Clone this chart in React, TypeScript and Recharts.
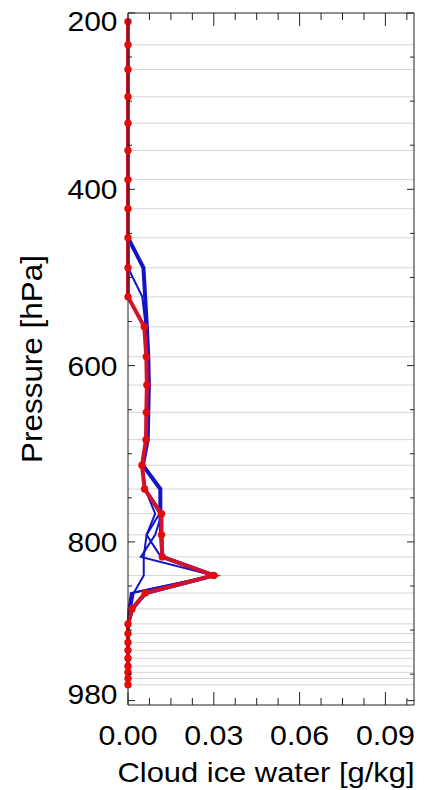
import React from 'react';
import { LineChart, Line, XAxis, YAxis, ReferenceLine } from 'recharts';

// Model pressure levels [hPa]
const levels = [210, 236, 264, 295, 325, 356, 389, 422, 455, 489, 522, 556, 590, 622, 653, 684, 713, 740, 768, 792, 817, 838, 858, 876, 893, 904, 914, 923, 932, 941, 948, 955, 962];

// Cloud ice water [g/kg]
const redProfile = [0, 0, 0, 0, 0, 0, 0, 0, 0, 0, 0, 0.0057, 0.0064, 0.0066, 0.0064, 0.0063, 0.0049, 0.0058, 0.0117, 0.0117, 0.012, 0.03, 0.006, 0.0014, 0, 0, 0, 0, 0, 0, 0, 0, 0];
const blueThick = [0, 0, 0, 0, 0, 0, 0, 0, 0, 0.0054, 0.006, 0.0066, 0.0071, 0.0073, 0.0071, 0.0069, 0.0052, 0.0113, 0.0113, 0.0116, 0.012, 0.03, 0.0062, 0.0015, 0, 0, 0, 0, 0, 0, 0, 0, 0];
const blueA = [0, 0, 0, 0, 0, 0, 0, 0, 0, 0, 0.005, 0.0062, 0.0068, 0.007, 0.0068, 0.0066, 0.005, 0.006, 0.0095, 0.0065, 0.0115, 0.03, 0.0015, 0.0003, 0, 0, 0, 0, 0, 0, 0, 0, 0];
const blueB = [0, 0, 0, 0, 0, 0, 0, 0, 0, 0, 0, 0.0058, 0.0066, 0.0068, 0.0066, 0.0064, 0.0047, 0.0058, 0.011, 0.0065, 0.0055, 0.0055, 0.002, 0.001, 0, 0, 0, 0, 0, 0, 0, 0, 0];
const blueC = [0, 0, 0, 0, 0, 0, 0, 0, 0, 0, 0, 0.0056, 0.0065, 0.0067, 0.0065, 0.0063, 0.0048, 0.0062, 0.0118, 0.0095, 0.0045, 0.03, 0.001, 0.0002, 0, 0, 0, 0, 0, 0, 0, 0, 0];

const xMajorTicks = [0, 0.03, 0.06, 0.09];
const xMinorTicks = [0.0075, 0.015, 0.0225, 0.0375, 0.045, 0.0525, 0.0675, 0.075, 0.0825, 0.0975];
const yMajorTicks = [200, 400, 600, 800, 980];
const yMinorTicks = [250, 300, 350, 450, 500, 550, 650, 700, 750, 850, 900, 950];

const xAllTicks = [...xMajorTicks, ...xMinorTicks].sort((a, b) => a - b);
const yAllTicks = [...yMajorTicks, ...yMinorTicks].sort((a, b) => a - b);

const data = levels.map((p, i) => ({
  p,
  red: redProfile[i],
  bt: blueThick[i],
  ba: blueA[i],
  bb: blueB[i],
  bc: blueC[i],
}));

const FONT = 'Liberation Sans, Arial, Helvetica, sans-serif';
const AX = '#222';

const isMajorX = (v: number) => xMajorTicks.some((t) => Math.abs(t - v) < 1e-9);
const isMajorY = (v: number) => yMajorTicks.includes(v);

const BottomTick = (props: any) => {
  const { x, y, payload } = props;
  const v = payload.value;
  const major = isMajorX(v);
  return (
    <g>
      <line x1={x} y1={y} x2={x} y2={y - (major ? 13 : 7)} stroke={AX} strokeWidth={1} />
      {major && (
        <text x={x} y={y + 40} textAnchor="middle" fontSize={28} fontFamily={FONT} fill="#000" textLength={59} lengthAdjust="spacingAndGlyphs">
          {v.toFixed(2)}
        </text>
      )}
    </g>
  );
};

const TopTick = (props: any) => {
  const { x, y, payload } = props;
  const major = isMajorX(payload.value);
  return <line x1={x} y1={y} x2={x} y2={y + (major ? 13 : 7)} stroke={AX} strokeWidth={1} />;
};

const LeftTick = (props: any) => {
  const { x, y, payload } = props;
  const v = payload.value;
  const major = isMajorY(v);
  let ly = y;
  if (v === yMajorTicks[0]) ly += 8;
  if (v === yMajorTicks[yMajorTicks.length - 1]) ly -= 7;
  return (
    <g>
      <line x1={x} y1={y} x2={x + (major ? 7 : 4)} y2={y} stroke={AX} strokeWidth={1} />
      {major && (
        <text x={x - 10.5} y={ly} dy="0.36em" textAnchor="end" fontSize={28} fontFamily={FONT} fill="#000" textLength={50} lengthAdjust="spacingAndGlyphs">
          {v}
        </text>
      )}
    </g>
  );
};

const RightTick = (props: any) => {
  const { x, y, payload } = props;
  const major = isMajorY(payload.value);
  return <line x1={x} y1={y} x2={x - (major ? 7 : 4)} y2={y} stroke={AX} strokeWidth={1} />;
};

export default function App() {
  return (
    <div style={{ position: 'absolute', left: 0, top: 0, width: 426, height: 790, background: '#fff' }}>
      <LineChart
        width={426}
        height={790}
        data={data}
        layout="vertical"
        margin={{ top: 0, right: 0, bottom: 0, left: 0 }}
      >
        <XAxis
          xAxisId="bottom"
          orientation="bottom"
          type="number"
          domain={[0, 0.1]}
          ticks={xAllTicks}
          interval={0}
          height={85}
          tickSize={0}
          tickMargin={0}
          tickLine={false}
          stroke={AX}
          tick={<BottomTick />}
          label={{
            content: () => (
              <text x={266} y={782} textAnchor="middle" fontSize={28} fontFamily={FONT} fill="#000" textLength={297} lengthAdjust="spacingAndGlyphs">
                Cloud ice water [g/kg]
              </text>
            ),
          }}
        />
        <XAxis
          xAxisId="top"
          orientation="top"
          type="number"
          domain={[0, 0.1]}
          ticks={xAllTicks}
          interval={0}
          height={13}
          tickSize={0}
          tickMargin={0}
          tickLine={false}
          stroke={AX}
          tick={<TopTick />}
        />
        <YAxis
          yAxisId="left"
          orientation="left"
          type="number"
          dataKey="p"
          domain={[200, 985]}
          ticks={yAllTicks}
          interval={0}
          width={128}
          tickSize={0}
          tickMargin={0}
          tickLine={false}
          stroke={AX}
          tick={<LeftTick />}
          label={{
            content: () => (
              <text x={42} y={359} transform="rotate(-90 42 359)" textAnchor="middle" fontSize={30} fontFamily={FONT} fill="#000" textLength={208} lengthAdjust="spacingAndGlyphs">
                Pressure [hPa]
              </text>
            ),
          }}
        />
        <YAxis
          yAxisId="right"
          orientation="right"
          type="number"
          dataKey="p"
          domain={[200, 985]}
          ticks={yAllTicks}
          interval={0}
          width={12}
          tickSize={0}
          tickMargin={0}
          tickLine={false}
          stroke={AX}
          tick={<RightTick />}
        />
        {levels.slice(1).map((lv) => (
          <ReferenceLine key={lv} y={lv} xAxisId="bottom" yAxisId="left" stroke="#d6d6d6" strokeWidth={1} />
        ))}
        <Line xAxisId="top" yAxisId="right" dataKey="ba" stroke="#1414c4" strokeWidth={2} dot={false} isAnimationActive={false} />
        <Line xAxisId="bottom" yAxisId="left" dataKey="bb" stroke="#1414c4" strokeWidth={2} dot={false} isAnimationActive={false} />
        <Line xAxisId="top" yAxisId="left" dataKey="bc" stroke="#1414c4" strokeWidth={2} dot={false} isAnimationActive={false} />
        <Line xAxisId="bottom" yAxisId="right" dataKey="bt" stroke="#1414c4" strokeWidth={4} dot={false} isAnimationActive={false} />
        <Line
          xAxisId="bottom"
          yAxisId="left"
          dataKey="red"
          stroke="#d4102a"
          strokeWidth={4}
          dot={{ r: 3.7, fill: '#e30c0c', stroke: 'none' }}
          isAnimationActive={false}
        />
      </LineChart>
    </div>
  );
}
